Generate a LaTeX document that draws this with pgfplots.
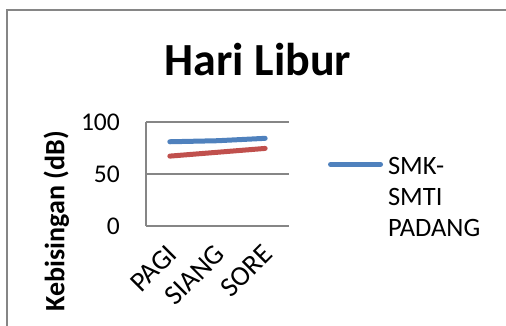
\documentclass[border=0pt]{standalone}
\usepackage{pgfplots}
\pgfplotsset{compat=1.18}
\usepackage{fontspec}
\setmainfont{Carlito}
\definecolor{xlblue}{HTML}{4F81BD}
\definecolor{xlred}{HTML}{C0504D}
\definecolor{xlgray}{HTML}{868686}
\begin{document}
\begin{tikzpicture}[x=1pt,y=1pt]
\useasboundingbox (0,0) rectangle (506,325);
\draw[xlgray, line width=1.5pt] (7,-5) -- (7,315) -- (512,315);
\node[anchor=base, font=\fontsize{46}{50}\selectfont\bfseries] at (258,250) {Hari Libur};
\begin{axis}[
  at={(146pt,99pt)}, anchor=south west,
  scale only axis, width=143pt, height=104pt,
  xmin=-0.5, xmax=2.5, ymin=0, ymax=100,
  xtick={0,1,2}, xticklabels={PAGI,SIANG,SORE},
  ytick={0,50,100},
  axis x line*=bottom, axis y line*=left,
  axis line style={xlgray, line width=1.2pt, -},
  ymajorgrids, grid style={xlgray, line width=1.2pt},
  major tick length=0pt,
  /pgf/number format/assume math mode=true,
  tick label style={font=\fontsize{25.5}{30}\selectfont, inner sep=0pt},
  yticklabel style={anchor=east, xshift=-26pt},
  xticklabel style={font=\fontsize{28}{30}\selectfont, xshift=-4pt, yshift=-17pt, rotate=45, anchor=north east},
  ylabel={Kebisingan (dB)},
  ylabel style={at={(axis description cs:-0.570,0.048)}, anchor=base, inner sep=0pt,
    font=\fontsize{28}{30}\selectfont\bfseries},
  legend style={draw=none, fill=none, inner sep=0pt, outer sep=0pt,
    at={(axis description cs:1.273,0.663)}, anchor=north west,
    column sep=5pt,
    nodes={inner sep=0pt, align=left, font=\fontsize{26.5}{31}\selectfont}},
  legend image code/.code={\draw[#1, line width=5pt, line cap=round] (2.5pt,33pt) -- (52.5pt,33pt);},
]
\addplot[xlblue, line width=5pt, line cap=round] coordinates {(0,81) (1,82) (2,84.3)};
\addlegendentry{SMK-\\SMTI\\PADANG}
\addplot[xlred, line width=5pt, line cap=round, forget plot] coordinates {(0,67.2) (1,70.9) (2,74.6)};
\end{axis}
\end{tikzpicture}
\end{document}
